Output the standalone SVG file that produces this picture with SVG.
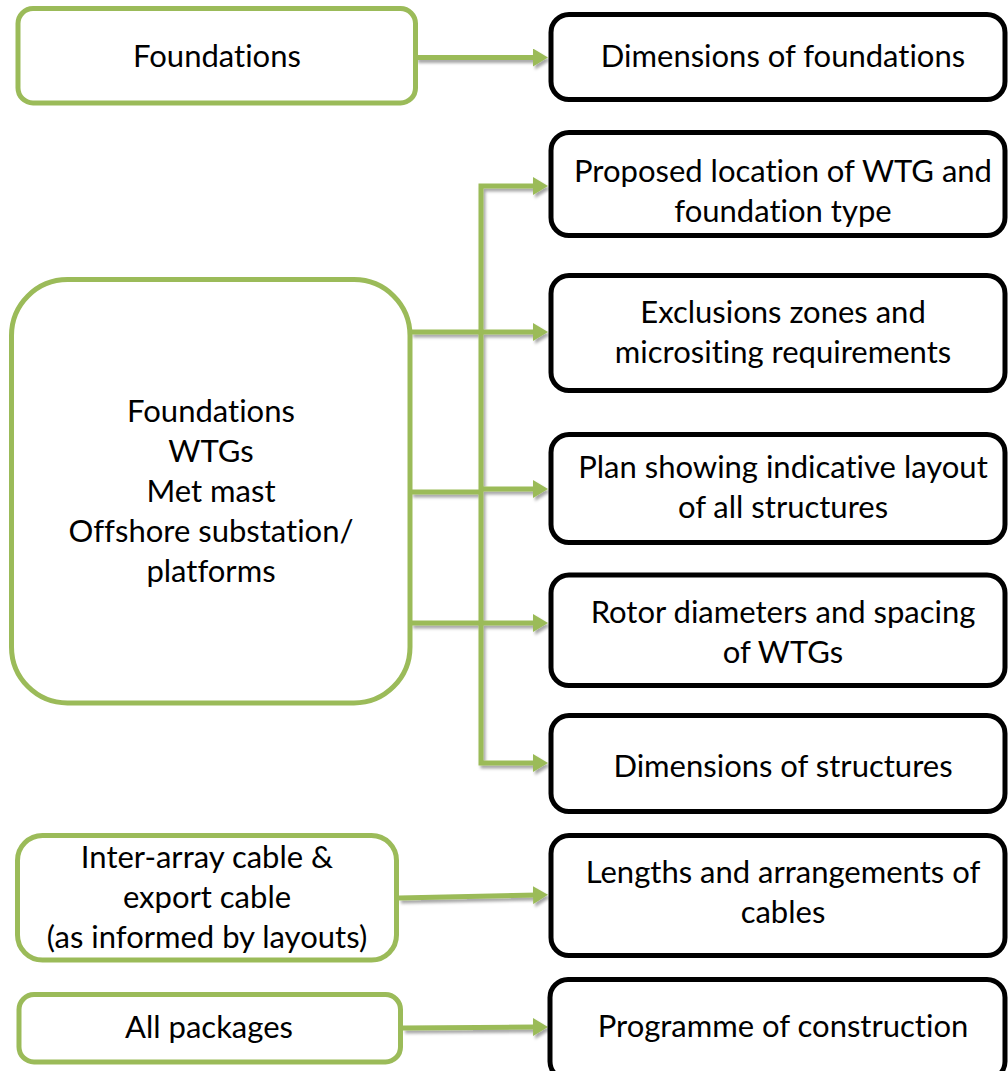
<svg xmlns="http://www.w3.org/2000/svg" width="1008" height="1071" viewBox="0 0 1008 1071">
  <defs>
    <style>
      .src rect { fill: #ffffff; stroke: #9bbb59; stroke-width: 5; }
      .dst rect { fill: #ffffff; stroke: #000000; stroke-width: 5; }
      text { font-family: Lato, "Open Sans", "Liberation Sans", sans-serif; font-size: 31px; fill: #000000; text-anchor: middle; font-variant-ligatures: none; }
      .conn path { fill: none; stroke: #9bbb59; stroke-width: 5; }
      .conn path.arrow { marker-end: url(#head); }
    </style>
    <marker id="head" viewBox="0 0 15 18" refX="5" refY="9" markerWidth="15" markerHeight="18" markerUnits="userSpaceOnUse" orient="auto">
      <path d="M0,0 L15,9 L0,18 Z" fill="#9bbb59"/>
    </marker>
    <filter id="shadow" x="-10%" y="-10%" width="120%" height="120%">
      <feDropShadow dx="2" dy="3" stdDeviation="1.5" flood-color="#000000" flood-opacity="0.35"/>
    </filter>
  </defs>

  <rect width="1008" height="1071" fill="#ffffff"/>

  <!-- connectors -->
  <g id="connectors" class="conn" filter="url(#shadow)">
    <path class="arrow" d="M416,57.5 L538,57.5"/>
    <path class="arrow" d="M481,332 V186 H538"/>
    <path class="arrow" d="M411,332 H538"/>
    <path d="M481,332 V623"/>
    <path d="M411,492 H481"/>
    <path class="arrow" d="M481,489 H538"/>
    <path class="arrow" d="M411,623 H538"/>
    <path class="arrow" d="M481,623 V763 H538"/>
    <path class="arrow" d="M399,898 L538,895"/>
    <path class="arrow" d="M403,1028 L538,1027"/>
  </g>

  <!-- input packages -->
  <g id="src-foundations" class="src">
    <rect x="18" y="8.5" width="397.5" height="94.5" rx="15"/>
    <text x="217" y="67">Foundations</text>
  </g>
  <g id="src-structures" class="src">
    <rect x="11.5" y="279.5" width="398.5" height="423.5" rx="56"/>
    <text x="211" y="421.7">Foundations</text>
    <text x="211" y="461.7">WTGs</text>
    <text x="211" y="501.7">Met mast</text>
    <text x="211" y="541.7">Offshore substation/</text>
    <text x="211" y="581.7">platforms</text>
  </g>
  <g id="src-cables" class="src">
    <rect x="17.5" y="835.5" width="379" height="124.5" rx="25"/>
    <text x="207" y="868.3">Inter-array cable &amp;</text>
    <text x="207" y="908.3">export cable</text>
    <text x="207" y="948.3">(as informed by layouts)</text>
  </g>
  <g id="src-all" class="src">
    <rect x="19" y="994.5" width="381.5" height="67.5" rx="15"/>
    <text x="209" y="1038.3">All packages</text>
  </g>

  <!-- outputs -->
  <g id="out-foundation-dims" class="dst">
    <rect x="551" y="14.5" width="454" height="85" rx="18"/>
    <text x="783" y="67">Dimensions of foundations</text>
  </g>
  <g id="out-location" class="dst">
    <rect x="551" y="132.5" width="454" height="103" rx="18"/>
    <text x="783" y="182">Proposed location of WTG and</text>
    <text x="783" y="222">foundation type</text>
  </g>
  <g id="out-exclusions" class="dst">
    <rect x="551" y="275.5" width="454" height="115" rx="18"/>
    <text x="783" y="323.3">Exclusions zones and</text>
    <text x="783" y="363.3">micrositing requirements</text>
  </g>
  <g id="out-layout" class="dst">
    <rect x="551" y="434.5" width="454" height="108" rx="18"/>
    <text x="783" y="478.3">Plan showing indicative layout</text>
    <text x="783" y="518.3">of all structures</text>
  </g>
  <g id="out-rotor" class="dst">
    <rect x="551" y="575" width="454" height="110.5" rx="18"/>
    <text x="783" y="623.3">Rotor diameters and spacing</text>
    <text x="783" y="662.5">of WTGs</text>
  </g>
  <g id="out-structure-dims" class="dst">
    <rect x="551" y="715.5" width="454" height="96" rx="18"/>
    <text x="783" y="776.7">Dimensions of structures</text>
  </g>
  <g id="out-cables" class="dst">
    <rect x="551" y="835.5" width="454" height="120" rx="18"/>
    <text x="783" y="883.3">Lengths and arrangements of</text>
    <text x="783" y="923.3">cables</text>
  </g>
  <g id="out-programme" class="dst">
    <rect x="550" y="979.5" width="455" height="100" rx="18"/>
    <text x="783" y="1036.7">Programme of construction</text>
  </g>
</svg>
